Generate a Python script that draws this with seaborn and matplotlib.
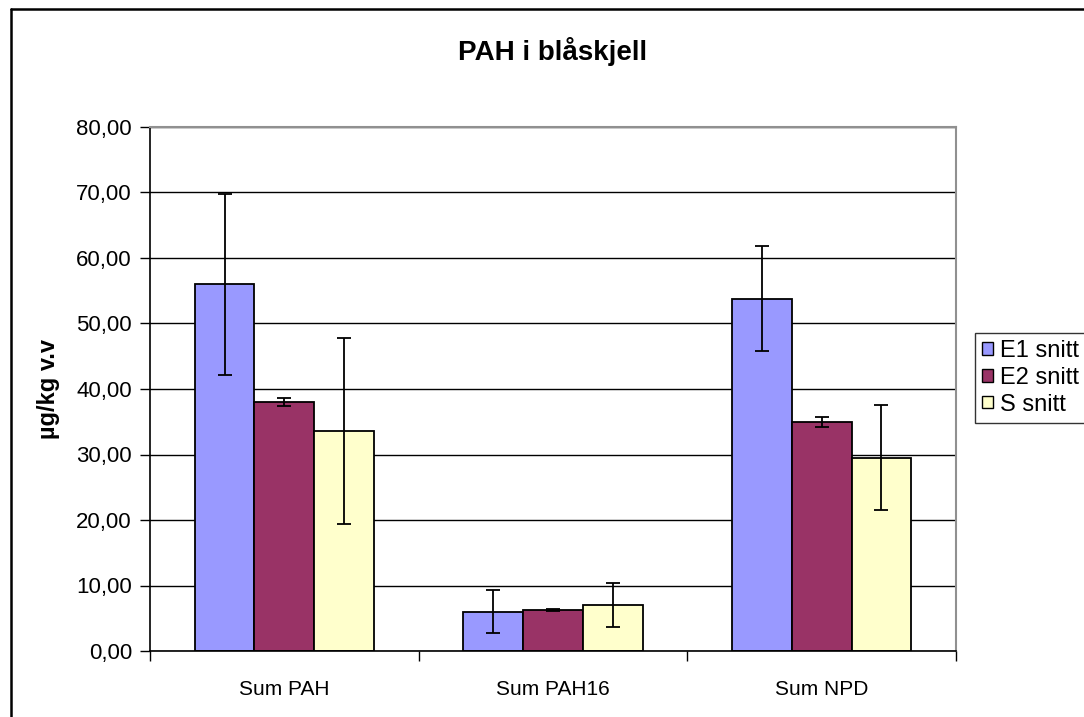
import numpy as np
import pandas as pd
import seaborn as sns
import matplotlib
matplotlib.use("Agg")
import matplotlib.pyplot as plt
from matplotlib.lines import Line2D
from matplotlib.patches import Patch
from matplotlib.ticker import FuncFormatter, FixedLocator

categories = ["Sum PAH", "Sum PAH16", "Sum NPD"]
series = ["E1 snitt", "E2 snitt", "S snitt"]
e1_vals = [56.0, 6.0, 53.8]
e2_vals = [38.0, 6.2, 35.0]
s_vals = [33.6, 7.0, 29.5]
e1_err = [13.8, 3.3, 8.0]
e2_err = [0.6, 0.15, 0.8]
s_err = [14.2, 3.4, 8.0]
colors = ["#9999FF", "#993366", "#FFFFCC"]
yticks = [0, 10, 20, 30, 40, 50, 60, 70, 80]

sns.set_theme(style="white")
plt.rcParams['font.family'] = ['Liberation Sans', 'DejaVu Sans']
plt.rcParams.update({"text.color": "black", "axes.labelcolor": "black",
                     "xtick.color": "black", "ytick.color": "black"})

vals = [e1_vals, e2_vals, s_vals]
errs = [e1_err, e2_err, s_err]
rows = []
for sname, v in zip(series, vals):
    for c, val in zip(categories, v):
        rows.append({"cat": c, "series": sname, "value": val})
df = pd.DataFrame(rows)

fig = plt.figure(figsize=(10.84, 7.17), dpi=100)
ax = fig.add_axes([150/1084, 1-651/717, (956-150)/1084, (651-127)/717])

sns.barplot(data=df, x="cat", y="value", hue="series", order=categories,
            hue_order=series, palette=colors, width=0.667, gap=0,
            edgecolor="black", linewidth=1.3, errorbar=None, ax=ax,
            saturation=1, legend=False)

for cont, err in zip(ax.containers, errs):
    xs = [b.get_x() + b.get_width()/2 for b in cont]
    hs = [b.get_height() for b in cont]
    ax.errorbar(xs, hs, yerr=err, fmt="none", ecolor="black", elinewidth=1.3,
                capsize=5, capthick=1.3, zorder=5)

ax.set_ylim(0, 80)
ax.set_xlim(-0.5, 2.5)
ax.yaxis.set_major_locator(FixedLocator(yticks))
ax.yaxis.set_major_formatter(FuncFormatter(lambda v, p: f"{v:.2f}".replace('.', ',')))
ax.grid(axis='y', color='black', linewidth=1)
ax.set_axisbelow(True)
ax.tick_params(axis='y', which='major', left=True, length=7, width=1, color='black',
               labelsize=16, pad=6)
ax.tick_params(axis='x', which='major', bottom=False, labelsize=15, pad=15)
ax.set_xticks([-0.5, 0.5, 1.5, 2.5], minor=True)
ax.tick_params(axis='x', which='minor', bottom=True, length=7, width=1, color='black')
ax.set_xlabel("")
ax.set_ylabel("µg/kg v.v", fontsize=17, fontweight='bold', labelpad=12)

for sp in ['left', 'bottom']:
    ax.spines[sp].set_color('black')
    ax.spines[sp].set_linewidth(1.2)
for sp in ['top', 'right']:
    ax.spines[sp].set_visible(True)
    ax.spines[sp].set_color('#909090')
    ax.spines[sp].set_linewidth(1.5)

fig.text(553/1084, 1-52/717, "PAH i blåskjell", fontsize=20, fontweight='bold',
         ha='center', va='center')

handles = [Patch(facecolor=c, edgecolor='black', linewidth=1) for c in colors]
leg = fig.legend(handles, series, loc='upper left',
                 bbox_to_anchor=(975/1084, 1-333/717), fontsize=17,
                 frameon=True, fancybox=False, edgecolor='black',
                 handlelength=0.45, handleheight=0.45, handletextpad=0.3,
                 borderpad=0.3, labelspacing=0.2, borderaxespad=0)
leg.get_frame().set_linewidth(1)

fig.add_artist(Line2D([11/1084, 11/1084], [0, 1-9/717], transform=fig.transFigure,
                      color='black', linewidth=1.8))
fig.add_artist(Line2D([11/1084, 1], [1-9/717, 1-9/717], transform=fig.transFigure,
                      color='black', linewidth=1.8))

fig.savefig("out.png", dpi=100, facecolor='white')
